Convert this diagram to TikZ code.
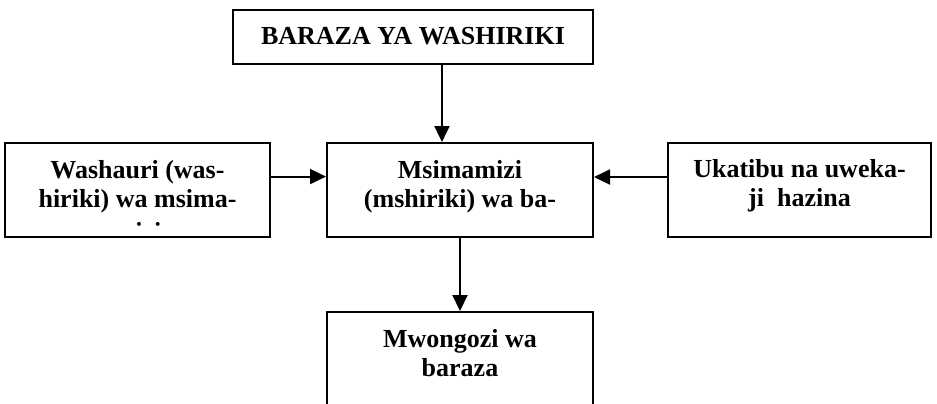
\documentclass[tikz,border=0pt]{standalone}
\usepackage{fontspec}
\setmainfont{Liberation Serif}
\usetikzlibrary{arrows.meta,positioning,calc}
\definecolor{boxborder}{HTML}{000000}
\definecolor{arrowc}{HTML}{000000}
\definecolor{titlefg}{HTML}{000000}

\begin{document}
\begin{tikzpicture}[
  x=0.5pt, y=-0.5pt,
  font=\fontsize{13}{14.5}\selectfont\bfseries,
  >={Triangle[length=8pt,width=7.5pt]},
  box/.style={
    draw=boxborder,
    line width=1pt,
    minimum width=#1,
    minimum height=47pt,
    inner sep=0pt
  },
  txt/.style={
    align=center,
    anchor=base,
    text=titlefg,
    inner sep=0pt
  },
  arr/.style={
    ->,
    line width=1pt,
    draw=arrowc
  }
]

\clip (0,0) rectangle (937,403);

% --- Top box ---
\node[box=180pt, minimum height=27pt, text=titlefg] (baraza) at (413,36.5) {BARAZA YA WASHIRIKI};

% --- Middle row ---
\node[box=133pt] (msimamizi) at (460,190) {};
\node[box=132.5pt] (washauri) at (137.5,190) {};
\node[box=131.5pt] (ukatibu) at (799.5,189.5) {};

% --- Bottom box (runs off the page) ---
\node[box=133pt, minimum height=70pt, anchor=north] (mwongozi) at (460,311) {};

% Texts sit at the top of each box (base = last line)
\node[txt] (msimamizitxt) at ($(msimamizi.north)+(0,65)$) {Msimamizi\\(mshiriki) wa ba-};
\begin{scope}
  \clip (washauri.north west) rectangle ($(washauri.south east)+(0,-12)$);
  \node[txt] (washauritxt) at ($(washauri.north)+(0,98)$) {Washauri (was-\\hiriki) wa msima-\\[2pt]mizi};
\end{scope}
\node[txt] (ukatibutxt) at ($(ukatibu.north)+(0,65)$) {Ukatibu na uweka-\\ji\ \ hazina};
\node[txt] (mwongozitxt) at ($(mwongozi.north)+(0,65)$) {Mwongozi wa\\baraza};

% Arrows
\coordinate (bzout) at ($(baraza.south west)!0.58!(baraza.south east)$);
\draw[arr] (bzout) -- (bzout |- msimamizi.north);

\coordinate (wsout) at ($(washauri.north east)!0.36!(washauri.south east)$);
\draw[arr] (wsout) -- (wsout -| msimamizi.west);

\coordinate (ukout) at ($(ukatibu.north west)!0.37!(ukatibu.south west)$);
\draw[arr] (ukout) -- (ukout -| msimamizi.east);

\draw[arr] (msimamizi.south) -- (mwongozi.north);

\end{tikzpicture}
\end{document}
